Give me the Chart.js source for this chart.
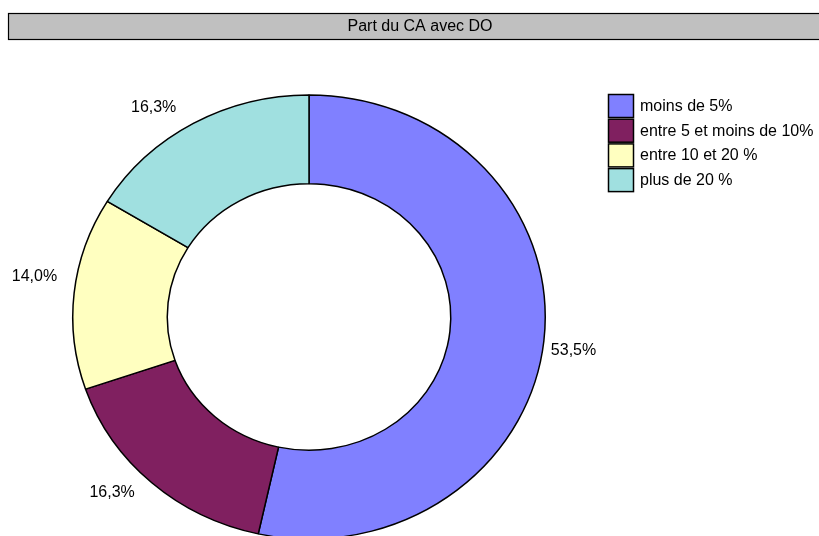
<!DOCTYPE html>
<html>
<head>
<meta charset="utf-8">
<script src="https://cdn.jsdelivr.net/npm/chart.js@4/dist/chart.umd.min.js"></script>
<style>
  html, body { margin: 0; padding: 0; background: #fff; overflow: hidden; }
  canvas { display: block; }
</style>
</head>
<body>
<canvas id="chart" width="819" height="560"></canvas>
<script>
const TITLE = 'Part du CA avec DO';
const CATEGORIES = ['moins de 5%', 'entre 5 et moins de 10%', 'entre 10 et 20 %', 'plus de 20 %'];
const SHARES = [53.5, 16.3, 14.0, 16.3];
const COLORS = ['rgb(128,128,255)', 'rgb(128,32,96)', 'rgb(255,255,192)', 'rgb(160,224,224)'];

const FONT = '16px "Liberation Sans", Arial, Helvetica, sans-serif';
const SQUASH = 0.94; // the original pie is slightly flattened vertically

function formatShare(v) {
    return v.toFixed(1).replace('.', ',') + '%';
}

const squashPlugin = {
    id: 'squash',
    beforeDatasetsDraw(chart) {
        const arc = chart.getDatasetMeta(0).data[0];
        const ctx = chart.ctx;
        ctx.save();
        ctx.translate(arc.x, arc.y);
        ctx.scale(1, SQUASH);
        ctx.translate(-arc.x, -arc.y);
    },
    afterDatasetsDraw(chart) {
        chart.ctx.restore();
    }
};

const decorPlugin = {
    id: 'decor',
    afterDraw(chart) {
        const ctx = chart.ctx;
        ctx.save();

        // title bar
        ctx.fillStyle = '#c0c0c0';
        ctx.fillRect(8, 13, 830, 26);
        ctx.strokeStyle = '#000';
        ctx.lineWidth = 1.2;
        ctx.strokeRect(8.5, 13.5, 830, 26);
        ctx.fillStyle = '#000';
        ctx.font = FONT;
        ctx.textAlign = 'center';
        ctx.textBaseline = 'middle';
        ctx.fillText(TITLE, 420, 27);

        // slice labels
        const meta = chart.getDatasetMeta(0);
        meta.data.forEach((arc, i) => {
            const mid = (arc.startAngle + arc.endAngle) / 2;
            const ux = Math.cos(mid), uy = Math.sin(mid);
            const px = arc.x + arc.outerRadius * ux;
            const py = arc.y + arc.outerRadius * SQUASH * uy;
            ctx.textAlign = ux >= 0 ? 'left' : 'right';
            const tx = ux >= 0 ? px + 7 : px - 17;
            const ty = uy >= 0 ? py + 10 : py - 16;
            ctx.fillText(formatShare(SHARES[i]), tx, ty);
        });

        // legend
        ctx.textAlign = 'left';
        ctx.lineWidth = 1.5;
        CATEGORIES.forEach((label, i) => {
            const y = 94.5 + i * 24.7;
            ctx.fillStyle = COLORS[i];
            ctx.fillRect(608.5, y, 25, 23);
            ctx.strokeStyle = '#000';
            ctx.strokeRect(608.5, y, 25, 23);
            ctx.fillStyle = '#000';
            ctx.fillText(label, 640, y + 12);
        });
        ctx.restore();
    }
};

new Chart(document.getElementById('chart'), {
    type: 'doughnut',
    data: {
        labels: CATEGORIES,
        datasets: [{
            data: SHARES,
            backgroundColor: COLORS,
            borderColor: '#000',
            borderWidth: 1.5,
            borderAlign: 'center'
        }]
    },
    options: {
        responsive: false,
        animation: false,
        cutout: '60%',
        layout: { padding: { left: 72, right: 273, top: 80, bottom: 6 } },
        plugins: {
            legend: { display: false },
            title: { display: false },
            tooltip: { enabled: false }
        }
    },
    plugins: [squashPlugin, decorPlugin]
});
</script>
</body>
</html>
